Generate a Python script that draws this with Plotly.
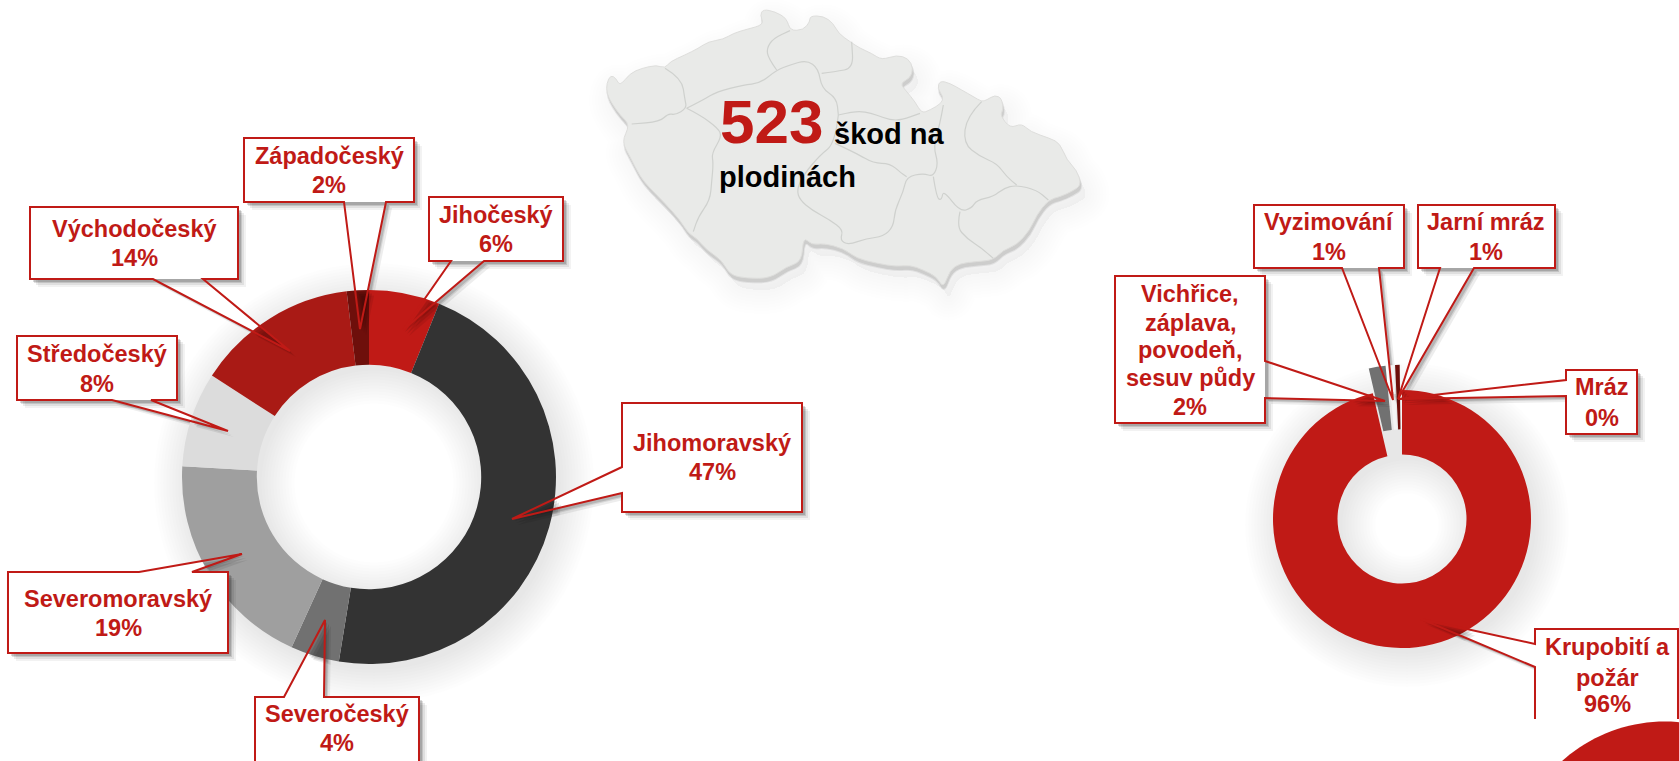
import numpy as np
import plotly.graph_objects as go

# ---------- data ----------
region_names = ["Jihočeský", "Jihomoravský", "Severočeský", "Severomoravský",
                "Středočeský", "Východočeský", "Západočeský"]
region_values = [32, 243, 22, 100, 43, 73, 10]
region_pct = ["6%", "47%", "4%", "19%", "8%", "14%", "2%"]

cause_names = ["Krupobití a požár", "Vichřice, záplava, povodeň, sesuv půdy",
               "Vyzimování", "Jarní mráz", "Mráz"]
cause_values = [504, 11, 4, 3, 1]
cause_pct = ["96%", "2%", "1%", "1%", "0%"]

total_damage = "523"
headline_a = "škod na"
headline_b = "plodinách"

# ---------- styling / layout ----------
W, H = 1679, 761
RED = "#c01a16"
FONT = "Liberation Sans, Arial, sans-serif"
region_colors = ["#c01a16", "#333333", "#717171", "#9f9f9f", "#dcdcdc", "#a91a15", "#6e0f0b"]
cause_colors = ["#c01a16", "#717171", "#f4f4f4", "#6e0f0b", "#f8f8f8"]

L_C, L_R, L_HOLE = (369, 477), 187, 0.6
R_C, R_R, R_HOLE = (1402, 519), 129, 0.5
PULL = 0.195


def px(x):
    return x / W


def py(y):
    return 1 - y / H


def poly(pts, close=True):
    s = "M" + " L".join(f"{px(x):.5f},{py(y):.5f}" for x, y in pts)
    return s + (" Z" if close else "")


def smooth(pts, close=False):
    """Quadratic smoothing through midpoints."""
    P = [(px(x), py(y)) for x, y in pts]
    if close:
        m0 = ((P[-1][0] + P[0][0]) / 2, (P[-1][1] + P[0][1]) / 2)
        s = f"M{m0[0]:.5f},{m0[1]:.5f}"
        for i in range(len(P)):
            a, b = P[i], P[(i + 1) % len(P)]
            s += f" Q{a[0]:.5f},{a[1]:.5f} {(a[0]+b[0])/2:.5f},{(a[1]+b[1])/2:.5f}"
        return s + " Z"
    s = f"M{P[0][0]:.5f},{P[0][1]:.5f}"
    for i in range(1, len(P) - 1):
        a, b = P[i], P[i + 1]
        s += f" Q{a[0]:.5f},{a[1]:.5f} {(a[0]+b[0])/2:.5f},{(a[1]+b[1])/2:.5f}"
    return s + f" L{P[-1][0]:.5f},{P[-1][1]:.5f}"


def circle(c, r, n=96):
    t = np.linspace(0, 2 * np.pi, n, endpoint=False)
    return [(c[0] + r * np.cos(a), c[1] + r * np.sin(a)) for a in t]


def ring(c, ro, ri):
    return poly(circle(c, ro)) + " " + poly(circle(c, ri))


shapes = []


def add(path, fill="rgba(0,0,0,0)", line=None, lw=0, layer="below", rule="nonzero"):
    shapes.append(dict(type="path", xref="paper", yref="paper", path=path, fillcolor=fill,
                       line=dict(color=line or "rgba(0,0,0,0)", width=lw), layer=layer,
                       fillrule=rule))


# ---------- map (traced outline, decoration) ----------
def M(p):
    return [(590 + x / 3, y / 3) for x, y in p]


outline = M([(50, 250), (62, 225), (78, 235), (90, 258), (120, 220), (155, 205), (200, 195), (225, 205),
             (240, 185), (285, 165), (325, 145), (355, 125), (400, 118), (430, 100), (470, 88), (522, 74),
             (510, 45), (520, 28), (555, 35), (590, 55), (600, 92), (640, 90), (660, 65), (660, 48), (700, 48),
             (730, 70), (745, 100), (780, 125), (810, 145), (845, 160), (875, 180), (920, 165), (955, 175),
             (970, 205), (960, 235), (930, 250), (950, 275), (975, 305), (995, 340), (1020, 330), (1055, 310),
             (1060, 290), (1042, 265), (1050, 242), (1080, 250), (1115, 270), (1150, 290), (1175, 305),
             (1190, 300), (1215, 285), (1235, 295), (1240, 330), (1230, 345), (1260, 385), (1295, 370),
             (1320, 395), (1380, 415), (1410, 430), (1430, 480), (1460, 510), (1475, 555), (1445, 575),
             (1410, 590), (1375, 600), (1340, 645), (1320, 690), (1280, 735), (1240, 750), (1210, 780),
             (1160, 785), (1110, 790), (1080, 810), (1060, 865), (1040, 830), (1000, 810), (960, 795),
             (920, 800), (860, 790), (800, 775), (760, 745), (700, 730), (665, 735), (640, 710), (635, 785),
             (590, 800), (540, 835), (470, 835), (420, 825), (395, 780), (350, 750), (320, 715), (295, 700),
             (270, 660), (225, 610), (180, 565), (150, 530), (120, 470), (95, 425), (120, 375), (90, 345),
             (65, 310), (50, 280)])
borders = [
    [(225, 205), (275, 235), (285, 300), (290, 325), (255, 345), (235, 340), (210, 365), (125, 372)],
    [(290, 325), (330, 345), (385, 385), (395, 410), (365, 460), (370, 490), (365, 545), (360, 600), (325, 650), (310, 695)],
    [(290, 325), (340, 300), (380, 275), (460, 255), (510, 250), (560, 210), (600, 195), (650, 180), (685, 205), (695, 265), (740, 295), (745, 345)],
    [(560, 210), (535, 175), (530, 145), (550, 115), (600, 92)],
    [(695, 220), (735, 215), (790, 205), (785, 125)],
    [(745, 345), (790, 335), (825, 335), (860, 345), (900, 360), (935, 360), (990, 340)],
    [(745, 345), (735, 430), (690, 465), (640, 525), (620, 570), (630, 600), (665, 630), (720, 660), (760, 690), (750, 720), (775, 735), (830, 715), (880, 710), (910, 680), (915, 630), (940, 575), (950, 530), (1000, 520), (1030, 530), (1045, 490), (1030, 440), (1050, 370), (1060, 315)],
    [(735, 430), (800, 460), (850, 490), (900, 490), (935, 520), (950, 530)],
    [(1030, 530), (1040, 595), (1055, 600), (1060, 570), (1110, 635), (1145, 625), (1160, 600), (1210, 590), (1240, 565), (1280, 555), (1340, 570), (1375, 600)],
    [(1110, 635), (1100, 680), (1130, 715), (1175, 745), (1210, 775)],
    [(1175, 305), (1130, 350), (1120, 430), (1170, 470), (1220, 490), (1250, 530), (1280, 555)],
]

shifted = lambda pts, dx, dy: [(x + dx, y + dy) for x, y in pts]
for w in range(6, 50, 6):
    add(smooth(shifted(outline, 6, 12), True), "rgba(0,0,0,0.004)", "rgba(0,0,0,0.004)", w)
add(smooth(shifted(outline, 1, 4), True), "rgba(170,170,170,0.35)", "rgba(170,170,170,0.25)", 2)
add(smooth(shifted(outline, 1, 3.5), True), "#cdcdcc")
add(smooth(outline, True), "#e9eae8", "#dededc", 1)
for b in borders:
    add(smooth(M(b)), line="#cfd1ce", lw=1.2)

# ---------- donut soft shadows ----------
for c, Ro, Ri in ((L_C, L_R, L_R * L_HOLE), (R_C, R_R, R_R * R_HOLE)):
    for k in range(0, 36, 3):
        add(ring((c[0] + 5, c[1] + 6), Ro + k, max(Ri - k, 1)), "rgba(0,0,0,0.0085)", rule="evenodd")

# corner blob
add(poly(circle((1665, 875.5), 154, 160)), RED, layer="above")

# ---------- callouts ----------
# body (x0, y0, x1, y1), side of pointer, two base offsets, tip, ring
callouts = [
    (0, (244, 138, 414, 202), "b", 344, 386, (360, 329), L_C, L_R),
    (1, (429, 197, 563, 261), "b", 451, 484, (403, 330), L_C, L_R),
    (2, (30, 207, 238, 279), "b", 153, 203, (290, 351), L_C, L_R),
    (3, (17, 336, 177, 400), "b", 112, 151, (228, 431), L_C, L_R),
    (4, (622, 403, 802, 512), "l", 467, 493, (512, 519), L_C, L_R),
    (5, (8, 572, 228, 653), "t", 139, 192, (242, 554), L_C, L_R),
    (6, (255, 697, 419, 775), "t", 284, 324, (325, 620), L_C, L_R),
    (7, (1254, 205, 1404, 268), "b", 1342, 1379, (1393, 400), R_C, R_R),
    (8, (1418, 205, 1555, 268), "b", 1440, 1474, (1398, 399), R_C, R_R),
    (9, (1115, 276, 1265, 423), "r", 361, 398, (1385, 401), R_C, R_R),
    (10, (1566, 370, 1637, 434), "l", 380, 396, (1398, 399), R_C, R_R),
    (11, (1535, 629, 1678, 719), "l", 644, 667, (1421, 619), R_C, R_R),
]


def callout_pts(box, side, a, b, tip):
    x0, y0, x1, y1 = box
    if side == "b":
        return [(x0, y0), (x1, y0), (x1, y1), (b, y1), tip, (a, y1), (x0, y1)]
    if side == "t":
        return [(x0, y0), (a, y0), tip, (b, y0), (x1, y0), (x1, y1), (x0, y1)]
    if side == "l":
        return [(x0, y0), (x1, y0), (x1, y1), (x0, y1), (x0, b), tip, (x0, a)]
    return [(x0, y0), (x1, y0), (x1, a), tip, (x1, b), (x1, y1), (x0, y1)]


def base_pts(box, side, a, b):
    x0, y0, x1, y1 = box
    return {"b": [(a, y1), (b, y1)], "t": [(a, y0), (b, y0)],
            "l": [(x0, a), (x0, b)], "r": [(x1, a), (x1, b)]}[side]


def exit_point(tip, base, c, r):
    for t in np.linspace(0, 1, 200):
        p = (tip[0] + (base[0] - tip[0]) * t, tip[1] + (base[1] - tip[1]) * t)
        if np.hypot(p[0] - c[0], p[1] - c[1]) >= r:
            return p
    return base


for _, box, side, a, b, tip, c, r in callouts:
    bs = base_pts(box, side, a, b)
    tri = [bs[0], tip, bs[1]]
    # pointer shadow + white fill under the donut
    for dx, al in ((6, 0.07), (4, 0.10), (3, 0.14)):
        add(poly(shifted(tri, dx, dx)), f"rgba(0,0,0,{al})")
    add(poly(tri), "#ffffff")

for _, box, side, a, b, tip, c, r in callouts:
    bs = base_pts(box, side, a, b)
    x0, y0, x1, y1 = box
    # shadow of the pointer on top of the slices
    e1, e2 = exit_point(tip, bs[0], c, r), exit_point(tip, bs[1], c, r)
    for dx, al in ((6, 0.08), (4, 0.10), (2, 0.12)):
        add(poly(shifted([e1, tip, e2], dx, dx)), f"rgba(0,0,0,{al})", layer="above")
    # body shadow
    y_end = min(y1, 719) if box[2] == 1678 else y1
    for dx, al in ((8, 0.05), (6, 0.08), (4, 0.12), (3, 0.15)):
        if box[2] != 1678:
            add(poly([(x0 + dx, y0 + dx), (x1 + dx, y0 + dx), (x1 + dx, y_end + dx), (x0 + dx, y_end + dx)]),
                f"rgba(0,0,0,{al})", layer="above")
    add(poly([(x0, y0), (x1, y0), (x1, y_end), (x0, y_end)]), "#ffffff", layer="above")

for i, box, side, a, b, tip, c, r in callouts:
    pts = callout_pts(box, side, a, b, tip)
    if box[2] == 1678:  # bottom edge of this box is cut off in the picture
        x0, y0, x1, y1 = box
        path = poly([(x1, 719), (x1, y0), (x0, y0), (x0, a), tip, (x0, b), (x0, 719)], close=False)
    else:
        path = poly(pts)
    add(path, line=RED, lw=2, layer="above")

# ---------- traces ----------
def domain(c, half):
    return dict(x=[px(c[0] - half), px(c[0] + half)], y=[py(c[1] + half), py(c[1] - half)])


fig = go.Figure()
fig.add_trace(go.Pie(labels=region_names, values=region_values, sort=False, direction="clockwise",
                     rotation=0, hole=L_HOLE, textinfo="none", domain=domain(L_C, L_R),
                     marker=dict(colors=region_colors, line=dict(width=0)), showlegend=False))
fig.add_trace(go.Pie(labels=cause_names, values=cause_values, sort=False, direction="clockwise",
                     rotation=0, hole=R_HOLE, textinfo="none", domain=domain(R_C, R_R * (1 + PULL)),
                     pull=[0, PULL, PULL, PULL, PULL],
                     marker=dict(colors=cause_colors, line=dict(width=0)), showlegend=False))

# ---------- text ----------
ann = []


def text(x, y, s, size=23.5, color=RED, anchor="center"):
    ann.append(dict(x=px(x), y=py(y), xref="paper", yref="paper", text=f"<b>{s}</b>", showarrow=False,
                    xanchor=anchor, yanchor="middle", align=anchor, xshift=0, yshift=0,
                    font=dict(family=FONT, size=size, color=color)))


label_spots = {
    "Západočeský": (329, 156, 185, 6), "Jihočeský": (496, 215, 244, 0), "Východočeský": (134, 229, 258, 5),
    "Středočeský": (97, 354, 384, 4), "Jihomoravský": (712, 443, 472, 1),
    "Severomoravský": (118, 599, 628, 3), "Severočeský": (337, 714, 743, 2),
}
for name, (x, y1, y2, i) in label_spots.items():
    text(x, y1, name)
    text(x, y2, region_pct[i])

text(1329, 222, cause_names[2]); text(1329, 252, cause_pct[2])
text(1486, 222, cause_names[3]); text(1486, 252, cause_pct[3])
for y, s in zip((294, 323, 350, 377.5), ("Vichřice,", "záplava,", "povodeň,", "sesuv půdy")):
    text(1190, y, s)
text(1190, 407, cause_pct[1])
text(1602, 387, cause_names[4]); text(1602, 417.5, cause_pct[4])
for y, s in zip((647, 677.5), ("Krupobití a", "požár")):
    text(1607, y, s)
text(1607, 704, cause_pct[0])

text(718, 121, total_damage, size=62, anchor="left")
text(832, 134, headline_a, size=29, color="#000000", anchor="left")
text(717, 177, headline_b, size=29, color="#000000", anchor="left")

fig.update_layout(width=W, height=H, margin=dict(l=0, r=0, t=0, b=0), paper_bgcolor="#ffffff",
                  plot_bgcolor="#ffffff", shapes=shapes, annotations=ann, showlegend=False)
fig.write_html("out.html", post_script="document.body.style.margin='0';document.body.style.overflow='hidden';",
               config=dict(displayModeBar=False))
